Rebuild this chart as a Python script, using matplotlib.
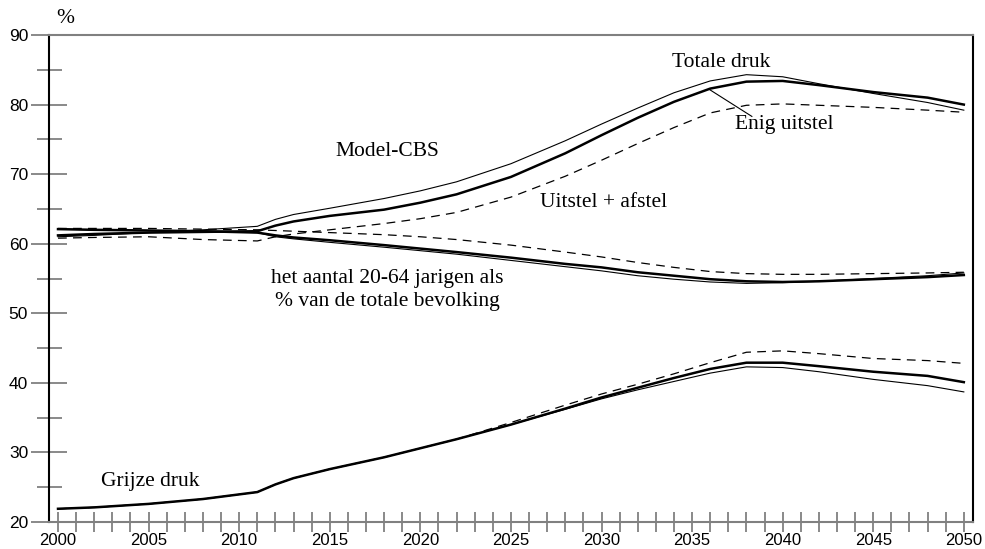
import matplotlib.pyplot as plt

years = [2000, 2002, 2005, 2008, 2011, 2012, 2013, 2015, 2018, 2020, 2022, 2025,
         2028, 2030, 2032, 2034, 2036, 2038, 2040, 2042, 2045, 2048, 2050]

# Totale druk (%)
totaal_cbs = [61.0, 61.2, 61.6, 62.0, 62.5, 63.5, 64.2, 65.1, 66.5, 67.6, 68.9, 71.5,
              74.8, 77.2, 79.5, 81.7, 83.4, 84.3, 84.0, 83.0, 81.6, 80.3, 79.2]
totaal_enig = [61.2, 61.4, 61.6, 61.7, 61.8, 62.6, 63.2, 64.0, 64.9, 65.9, 67.1, 69.6,
               73.0, 75.6, 78.1, 80.4, 82.3, 83.3, 83.4, 82.8, 81.8, 81.0, 80.0]
totaal_afstel = [60.8, 60.9, 61.0, 60.6, 60.4, 61.0, 61.4, 62.0, 62.9, 63.6, 64.5, 66.7,
                 69.7, 72.0, 74.4, 76.7, 78.8, 79.9, 80.1, 79.9, 79.6, 79.2, 78.9]

# 20-64 jarigen als % van de totale bevolking
aandeel_cbs = [62.1, 62.0, 61.9, 61.8, 61.6, 61.0, 60.7, 60.2, 59.5, 59.0, 58.5, 57.6,
               56.7, 56.1, 55.4, 54.9, 54.5, 54.3, 54.4, 54.6, 55.0, 55.4, 55.8]
aandeel_enig = [62.1, 62.0, 61.9, 61.8, 61.6, 61.2, 60.9, 60.5, 59.8, 59.3, 58.8, 58.0,
                57.1, 56.6, 55.9, 55.4, 54.9, 54.6, 54.5, 54.6, 54.9, 55.2, 55.5]
aandeel_afstel = [62.2, 62.2, 62.2, 62.1, 62.0, 61.9, 61.8, 61.6, 61.3, 61.0, 60.6, 59.8,
                  58.8, 58.1, 57.3, 56.6, 56.0, 55.7, 55.6, 55.6, 55.7, 55.8, 55.9]

# Grijze druk (%)
grijs_cbs = [21.9, 22.1, 22.6, 23.3, 24.3, 25.4, 26.3, 27.6, 29.3, 30.6, 31.9, 34.0,
             36.2, 37.7, 39.0, 40.2, 41.4, 42.3, 42.2, 41.6, 40.5, 39.6, 38.7]
grijs_enig = [21.9, 22.1, 22.6, 23.3, 24.3, 25.4, 26.3, 27.6, 29.3, 30.6, 31.9, 34.0,
              36.3, 37.9, 39.3, 40.7, 42.0, 42.9, 42.9, 42.4, 41.6, 41.0, 40.1]
grijs_afstel = [21.9, 22.1, 22.6, 23.3, 24.3, 25.4, 26.3, 27.6, 29.3, 30.6, 31.9, 34.3,
                36.8, 38.4, 39.8, 41.3, 42.9, 44.4, 44.6, 44.2, 43.5, 43.2, 42.8]

serif = "Liberation Serif"
sans = "Liberation Sans"
grey = "#808080"

fig = plt.figure(figsize=(9.85, 5.49), dpi=100)
ax = fig.add_axes([0.0497, 0.0492, 0.938, 0.887])

thin = dict(color="black", lw=0.8, solid_joinstyle="round")
thick = dict(color="black", lw=1.8, solid_joinstyle="round")
dashed = dict(color="black", lw=0.9, dashes=(7, 5))

for cbs, enig, afstel in [(totaal_cbs, totaal_enig, totaal_afstel),
                          (aandeel_cbs, aandeel_enig, aandeel_afstel),
                          (grijs_cbs, grijs_enig, grijs_afstel)]:
    ax.plot(years, afstel, **dashed)
    ax.plot(years, cbs, **thin)
    ax.plot(years, enig, **thick)

ax.set_xlim(1999.5, 2050.5)
ax.set_ylim(20, 90)

ax.set_xticks(range(2000, 2051))
ax.set_xticklabels([str(y) if y % 5 == 0 else "" for y in range(2000, 2051)])
ax.set_yticks(range(20, 91, 10))
ax.set_yticks(range(25, 90, 10), minor=True)

ax.tick_params(axis="x", which="major", direction="inout", length=14, width=1.3,
               color=grey, labelsize=12, pad=1)
ax.tick_params(axis="y", which="major", direction="inout", length=26, width=1.3,
               color=grey, labelsize=12.5, pad=2)
ax.tick_params(axis="y", which="minor", direction="inout", length=18, width=1.3,
               color=grey)
for lab in ax.get_xticklabels() + ax.get_yticklabels():
    lab.set_fontfamily(sans)

ax.spines["top"].set_color(grey)
ax.spines["bottom"].set_color(grey)
ax.spines["left"].set_color("black")
ax.spines["right"].set_color("black")
for s in ax.spines.values():
    s.set_linewidth(1.5)

tk = dict(family=serif, fontsize=15.5, ha="center", va="center")
ax.text(2036.6, 86.0, "Totale druk", **tk)
ax.text(2040.1, 77.2, "Enig uitstel", **tk)
ax.plot([2036.0, 2038.3], [82.1, 78.3], color="black", lw=0.8)
ax.text(2018.2, 73.2, "Model-CBS", **tk)
ax.text(2030.1, 65.9, "Uitstel + afstel", **tk)
ax.text(2018.2, 53.35, "het aantal 20-64 jarigen als\n% van de totale bevolking",
        linespacing=1.3, **tk)
ax.text(2005.1, 25.75, "Grijze druk", **tk)
ax.text(2000.4, 92.4, "%", clip_on=False, **tk)

fig.savefig("out.png", dpi=100)
